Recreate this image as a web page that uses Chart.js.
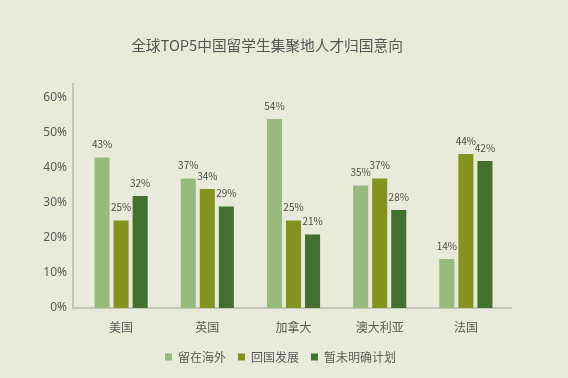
<!DOCTYPE html>
<html>
<head>
<meta charset="utf-8">
<script src="https://cdn.jsdelivr.net/npm/chart.js@4/dist/chart.umd.min.js"></script>
<style>
html,body{margin:0;padding:0;background:#e9ead9;}
#wrap{width:568px;height:378px;}
</style>
</head>
<body>
<div id="wrap"><canvas id="c" width="568" height="378"></canvas></div>
<script>
const categories = ['美国', '英国', '加拿大', '澳大利亚', '法国'];
const seriesNames = ['留在海外', '回国发展', '暂未明确计划'];
const stayAbroad = [43, 37, 54, 35, 14];
const returnHome = [25, 34, 25, 37, 44];
const undecided = [32, 29, 21, 28, 42];
const yTicks = [0, 10, 20, 30, 40, 50, 60];
const titleText = '全球TOP5中国留学生集聚地人才归国意向';

const colors = ['#97bb7c', '#84931e', '#44702f'];
const FONT = '"Noto Sans CJK SC", "Noto Sans", sans-serif';

const titlePlugin = {
  id: 'titlePlugin',
  afterLayout(chart) {
    // move the legend block so it sits where the reference has it
    if (chart.legend) { chart.legend.left += 26; chart.legend.right += 26; }
  },
  afterDraw(chart) {
    const {ctx} = chart;
    ctx.save();
    ctx.font = '14.7px ' + FONT;
    ctx.fillStyle = '#555555';
    ctx.textAlign = 'center';
    ctx.textBaseline = 'middle';
    ctx.fillText(titleText, 267, 45);
    ctx.restore();
  }
};

const axisLines = {
  id: 'axisLines',
  beforeDatasetsDraw(chart) {
    const {ctx, chartArea, scales} = chart;
    const y0 = scales.y.getPixelForValue(0);
    const left = chartArea.left - 5;
    ctx.save();
    ctx.strokeStyle = '#c4c4bc';
    ctx.lineWidth = 2;
    ctx.beginPath();
    ctx.moveTo(left, chartArea.top - 15);
    ctx.lineTo(left, y0);
    ctx.lineTo(chartArea.right + 3, y0);
    ctx.stroke();
    ctx.restore();
  }
};

const dataLabels = {
  id: 'dataLabels',
  afterDatasetsDraw(chart) {
    const {ctx} = chart;
    ctx.save();
    ctx.font = '10px ' + FONT;
    ctx.fillStyle = '#4a4a4a';
    ctx.textAlign = 'center';
    ctx.textBaseline = 'bottom';
    chart.data.datasets.forEach((ds, i) => {
      chart.getDatasetMeta(i).data.forEach((bar, j) => {
        ctx.fillText(ds.data[j] + '%', bar.x, bar.y - 8);
      });
    });
    ctx.restore();
  }
};

new Chart(document.getElementById('c'), {
  type: 'bar',
  data: {
    labels: categories,
    datasets: [
      {label: seriesNames[0], data: stayAbroad, backgroundColor: colors[0]},
      {label: seriesNames[1], data: returnHome, backgroundColor: colors[1]},
      {label: seriesNames[2], data: undecided, backgroundColor: colors[2]}
    ]
  },
  options: {
    responsive: false,
    animation: false,
    devicePixelRatio: 1,
    categoryPercentage: 0.663,
    barPercentage: 0.79,
    layout: {padding: {left: 0, right: 59, top: 98, bottom: 5}},
    plugins: {
      title: {display: false},
      legend: {
        position: 'bottom',
        labels: {
          color: '#595959',
          font: {family: FONT, size: 12},
          boxWidth: 7,
          boxHeight: 7,
          padding: 12,
          usePointStyle: false
        }
      },
      tooltip: {enabled: false}
    },
    scales: {
      x: {
        grid: {display: false, drawTicks: false},
        border: {display: false},
        ticks: {color: '#595959', font: {family: FONT, size: 12}, padding: 12},
        afterFit(scale) { scale.height = 31; }
      },
      y: {
        min: 0, max: 60,
        grid: {display: false, drawTicks: false},
        border: {display: false},
        afterBuildTicks(scale) { scale.ticks = yTicks.map(v => ({value: v})); },
        ticks: {
          color: '#595959',
          font: {family: '"Noto Sans", sans-serif', size: 12},
          padding: 11,
          callback: v => v + '%'
        },
        afterFit(scale) { scale.width = 78; }
      }
    }
  },
  plugins: [axisLines, dataLabels, titlePlugin]
});
</script>
</body>
</html>
